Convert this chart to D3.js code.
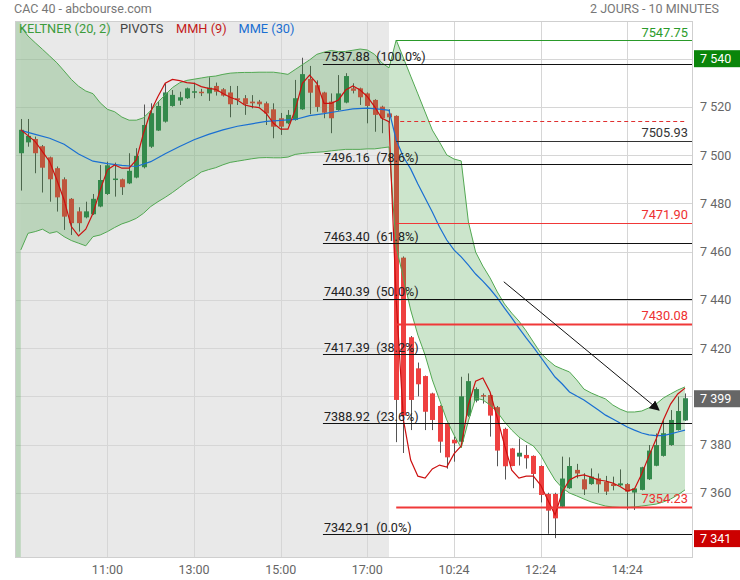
<!DOCTYPE html>
<html><head><meta charset="utf-8">
<script src="https://cdn.jsdelivr.net/npm/d3@7"></script>
<style>body{margin:0;background:#fff}svg{font-family:Roboto,"Liberation Sans",Arial,sans-serif}</style>
</head><body><svg id="c" width="740" height="580"></svg>
<script>
// ---------- DATA ----------
const opens  = [7500.8,7505.3,7506.7,7503.7,7499.1,7494.6,7490.0,7481.9,7476.7,7474.2,7475.5,7478.7,7483.9,7490.0,7490.0,7488.3,7490.7,7495.0,7503.5,7510.2,7513.9,7520.4,7522.6,7523.6,7526.0,7526.3,7525.6,7528.7,7527.3,7526.0,7523.6,7523.6,7522.2,7522.2,7521.5,7519.0,7515.3,7513.2,7514.6,7519.0,7531.6,7529.0,7526.0,7522.2,7518.7,7521.8,7527.7,7527.7,7525.6,7522.9,7520.1,7517.3,
  7516.3,7457.5,7424.5,7411.6,7408.4,7401.2,7396.0,7388.8,7382.0,7381.2,7392.0,7398.2,7400.5,7400.5,7395.5,7386.5,7378.4,7375.0,7375.7,7375.3,7371.1,7359.5,7359.5,7354.2,7361.9,7369.5,7365.6,7363.6,7366.0,7364.6,7363.6,7363.1,7363.6,7360.1,7361.2,7365.6,7371.2,7375.3,7379.8,7386.0,7390.0];
const highs  = [7515.0,7515.0,7507.7,7504.2,7499.4,7495.3,7490.8,7482.2,7478.4,7480.7,7483.9,7495.9,7497.3,7496.9,7490.3,7500.8,7502.9,7521.0,7521.5,7522.0,7529.8,7527.0,7526.3,7528.0,7530.1,7527.5,7532.3,7530.1,7527.8,7528.7,7528.7,7524.9,7524.9,7522.9,7522.2,7521.5,7517.5,7518.7,7531.2,7540.4,7537.0,7531.0,7526.3,7525.6,7533.2,7534.0,7529.8,7528.0,7526.0,7523.2,7520.5,7519.0,
  7516.5,7458.0,7425.0,7414.0,7408.6,7401.5,7396.3,7389.0,7383.3,7408.1,7409.5,7403.7,7401.2,7401.0,7396.0,7387.0,7378.6,7382.5,7379.8,7375.5,7371.4,7360.0,7360.0,7375.0,7374.7,7372.0,7368.1,7370.1,7368.0,7367.0,7366.7,7369.7,7364.0,7362.0,7370.8,7379.8,7384.6,7390.2,7394.3,7399.9,7401.2];
const lows   = [7485.3,7503.5,7492.5,7484.5,7480.7,7476.6,7469.0,7466.9,7468.3,7473.8,7475.2,7478.4,7483.5,7482.8,7483.5,7488.0,7490.4,7494.5,7503.0,7510.0,7513.5,7520.1,7520.8,7523.3,7523.6,7524.5,7522.5,7524.7,7524.3,7515.7,7520.8,7516.7,7519.4,7520.1,7512.5,7507.0,7508.4,7512.8,7514.3,7518.8,7517.0,7518.0,7515.3,7509.1,7518.4,7521.5,7525.6,7520.8,7513.2,7509.7,7509.1,7513.2,
  7381.0,7376.5,7386.0,7400.0,7386.0,7386.0,7376.6,7370.0,7372.9,7381.0,7391.5,7397.5,7397.0,7383.3,7371.0,7365.5,7371.0,7371.3,7370.0,7361.9,7356.0,7343.0,7341.2,7354.0,7361.6,7366.0,7359.1,7363.3,7360.0,7359.1,7361.0,7362.8,7352.9,7352.9,7361.0,7365.3,7371.0,7375.0,7379.5,7385.8,7389.8];
const closes = [7510.5,7508.0,7500.8,7494.8,7490.0,7482.5,7474.5,7471.8,7471.8,7476.7,7481.9,7489.7,7495.8,7490.3,7486.7,7493.5,7499.7,7512.5,7517.4,7520.4,7526.0,7525.0,7524.0,7527.7,7526.5,7525.8,7528.0,7526.3,7524.7,7521.1,7522.9,7521.1,7521.5,7521.1,7517.3,7511.8,7511.8,7516.7,7523.6,7533.6,7525.9,7520.0,7517.6,7515.3,7525.6,7532.8,7526.7,7524.0,7520.4,7516.7,7515.3,7515.7,
  7398.5,7392.0,7398.5,7405.0,7393.6,7390.2,7381.2,7374.7,7380.5,7400.0,7406.3,7403.0,7400.0,7392.0,7377.5,7371.0,7371.1,7376.6,7374.3,7367.8,7359.1,7352.6,7349.4,7365.9,7371.1,7368.0,7361.4,7366.7,7363.5,7360.5,7362.8,7363.9,7360.5,7361.8,7370.6,7377.5,7379.8,7384.7,7390.2,7393.9,7399.2];

const keltnerUpper = [7553.3,7549.4,7546.6,7543.9,7541.1,7538.3,7534.9,7531.4,7528.6,7526.6,7525.5,7521.7,7519.0,7518.0,7515.8,7514.5,7514.5,7515.5,7518.5,7522.0,7525.0,7528.0,7530.0,7531.0,7531.5,7532.0,7532.5,7532.8,7533.5,7534.0,7534.2,7534.3,7534.3,7534.4,7534.4,7534.4,7534.0,7533.5,7535.5,7537.5,7539.5,7541.8,7542.7,7543.4,7542.9,7543.0,7543.5,7544.0,7543.6,7541.8,7538.3,7536.2,
  7547.75,7540.3,7532.8,7525.4,7517.9,7510.4,7505.4,7500.1,7498.4,7497.6,7472.3,7459.8,7454.0,7449.1,7443.3,7438.3,7434.5,7431.2,7427.1,7422.5,7418.0,7415.1,7412.6,7411.3,7410.1,7406.8,7403.0,7401.4,7400.1,7398.9,7396.4,7394.7,7393.5,7393.5,7393.9,7395.2,7396.8,7399.3,7401.0,7402.6,7403.9];
const keltnerLower = [7460.7,7467.6,7468.3,7469.3,7467.6,7468.3,7466.2,7464.6,7463.5,7462.4,7466.2,7466.9,7468.3,7470.0,7471.5,7472.5,7473.8,7475.9,7478.7,7480.7,7482.5,7484.5,7486.7,7489.0,7490.8,7493.0,7494.0,7494.8,7496.0,7497.0,7497.5,7498.0,7498.5,7498.9,7499.0,7498.9,7498.9,7499.2,7500.3,7500.7,7501.0,7501.2,7501.4,7501.8,7502.1,7502.4,7502.4,7502.4,7502.6,7502.6,7503.0,7503.4,
  7461.9,7449.1,7435.8,7425.4,7417.1,7406.8,7398.5,7390.2,7384.0,7378.6,7389.8,7399.3,7398.5,7396.4,7393.5,7389.4,7386.0,7383.1,7381.1,7379.4,7375.7,7370.3,7365.3,7362.0,7359.9,7358.7,7357.4,7356.2,7355.3,7354.5,7354.1,7353.9,7353.9,7354.1,7354.5,7354.9,7355.3,7356.2,7357.4,7359.1,7361.2];

const mmhValues = [7510.5,7508.1,7505.6,7501.5,7497.3,7489.7,7481.4,7470.4,7466.5,7469.3,7475.9,7485.6,7493.9,7495.9,7494.6,7494.6,7498.0,7509.1,7518.1,7524.3,7529.8,7531.4,7530.9,7530.1,7529.8,7528.4,7527.7,7527.3,7525.6,7524.0,7522.9,7520.8,7520.1,7519.7,7517.3,7513.2,7510.8,7510.8,7518.7,7529.8,7533.2,7529.8,7521.5,7521.5,7522.9,7527.0,7528.7,7527.0,7524.3,7520.1,7515.3,7513.9,
  7439.9,7390.2,7373.6,7366.9,7366.1,7369.9,7371.5,7370.7,7376.1,7379.4,7396.4,7406.3,7407.6,7401.8,7391.0,7379.8,7369.4,7366.1,7366.9,7366.9,7363.2,7357.0,7350.8,7360.3,7365.3,7366.9,7367.4,7366.5,7365.3,7364.9,7364.0,7362.6,7360.7,7361.6,7367.8,7375.2,7382.3,7390.2,7396.8,7401.0,7403.4];

const mmeIndex  = [0,2,4,6,8,10,12,14,16,18,20,22,24,26,28,30,32,34,36,38,40,42,44,46,48,50,51,
  52,53,54,55,56,57,58,59,60,61,62,63,64,65,66,67,68,69,70,71,72,73,74,75,76,77,78,79,80,81,82,83,84,85,86,87,88,89,90,91,92];
const mmeValues = [7510.3,7508.6,7507.0,7504.5,7500.5,7497.5,7496.5,7495.8,7495.3,7497.3,7500.6,7503.6,7506.4,7508.6,7510.5,7512.0,7513.0,7514.0,7514.4,7514.8,7516.4,7517.2,7518.2,7519.2,7519.5,7519.0,7518.6,
  7506.3,7499.2,7494.3,7488.0,7482.2,7476.4,7470.2,7464.8,7460.7,7457.8,7454.4,7450.7,7447.8,7444.5,7440.8,7436.6,7432.5,7428.3,7424.2,7420.4,7416.3,7412.1,7408.0,7405.1,7401.8,7400.1,7398.5,7396.4,7394.3,7392.2,7390.6,7388.9,7387.3,7386.0,7384.8,7384.0,7383.7,7383.7,7384.4,7385.2,7386.0];

const fibValues = [7537.88,7496.16,7463.40,7440.39,7417.39,7388.92,7342.91];
const fibPct    = ["100.0%","78.6%","61.8%","50.0%","38.2%","23.6%","0.0%"];
const pivotValues = [7547.75,7505.93,7471.90,7430.08,7354.23];
const pivotKinds  = ["green","black","red","redBold","redBold"];
const prevClose = 7514.2;
const arrowFrom = [66.9,7447.5], arrowTo = [88.4,7394.3];

const xTickIndex  = [12,24,36,48,60,72,84];
const xTickLabels = ["11:00","13:00","15:00","17:00","10:24","12:24","14:24"];
const yTicks = [7360,7380,7400,7420,7440,7460,7480,7500,7520,7540];
const priceTags = [7540,7399,7341];
const priceTagKinds = ["high","last","low"];
const lastPrevIndex = 51, firstTodayIndex = 52, fibStartIndex = 41.85;

// ---------- DRAW ----------
const svg = d3.select("#c");
const P = {l:15, r:692, t:21, b:557};
const x = d3.scaleLinear().domain([0,92]).range([20.8,685.0]);
const y = d3.scaleLinear().domain([7342.91,7547.75]).range([534,40]);
const loc = d3.formatLocale({decimal:".",thousands:" ",grouping:[3],currency:["",""]});
const fmt = loc.format(",.0f");

svg.append("text").attr("x",14).attr("y",13).attr("font-size",12.5).attr("fill","#777").text("CAC 40 - abcbourse.com");
svg.append("text").attr("x",719).attr("y",13).attr("text-anchor","end").attr("font-size",12.5).attr("fill","#777").text("2 JOURS - 10 MINUTES");

svg.append("defs").append("clipPath").attr("id","pc").append("rect")
  .attr("x",P.l).attr("y",P.t).attr("width",P.r-P.l).attr("height",P.b-P.t);

svg.append("rect").attr("x",P.l).attr("y",P.t).attr("width",P.r-P.l).attr("height",P.b-P.t).attr("fill","#fff");
svg.append("rect").attr("x",P.l).attr("y",P.t).attr("width",x(lastPrevIndex)-P.l).attr("height",P.b-P.t).attr("fill","#e9e9e9");

const g = svg.append("g").attr("clip-path","url(#pc)");
g.selectAll(".hg").data(yTicks).join("line")
  .attr("x1",P.l).attr("x2",P.r).attr("y1",d=>Math.round(y(d))+0.5).attr("y2",d=>Math.round(y(d))+0.5)
  .attr("stroke","#d6d6d6").attr("stroke-width",1);
g.selectAll(".vg").data(xTickIndex).join("line")
  .attr("x1",d=>Math.round(x(d))+0.5).attr("x2",d=>Math.round(x(d))+0.5).attr("y1",P.t).attr("y2",P.b)
  .attr("stroke","#d6d6d6").attr("stroke-width",1);

// candles
const idx = d3.range(opens.length);
const up = i => closes[i] >= opens[i];
g.selectAll(".wick").data(idx).join("line")
  .attr("x1",i=>Math.round(x(i))+0.5).attr("x2",i=>Math.round(x(i))+0.5)
  .attr("y1",i=>y(highs[i])).attr("y2",i=>y(lows[i]))
  .attr("stroke","#555").attr("stroke-width",1);
g.selectAll(".body").data(idx).join("rect")
  .attr("x",i=>Math.round(x(i))-2).attr("width",5)
  .attr("y",i=>y(Math.max(opens[i],closes[i])))
  .attr("height",i=>Math.max(1.5,Math.abs(y(opens[i])-y(closes[i]))))
  .attr("fill",i=>up(i)?"#338553":"#ee4040");

// Keltner band (over candles)
g.append("rect").attr("x",P.l).attr("y",P.t).attr("width",x(0)-P.l).attr("height",P.b-P.t)
  .attr("fill","rgba(60,160,60,0.25)");
g.append("line").attr("x1",P.l+0.5).attr("x2",P.l+0.5).attr("y1",P.t).attr("y2",P.b).attr("stroke","#6ab86a");
const area = d3.area().x(i=>x(i)).y0(i=>y(keltnerLower[i])).y1(i=>y(keltnerUpper[i]));
g.append("path").datum(idx).attr("d",area).attr("fill","rgba(50,150,50,0.25)");
g.append("path").datum(idx).attr("d",d3.line().x(i=>x(i)).y(i=>y(keltnerUpper[i])))
  .attr("fill","none").attr("stroke","#52a852").attr("stroke-width",1);
g.append("path").datum(idx).attr("d",d3.line().x(i=>x(i)).y(i=>y(keltnerLower[i])))
  .attr("fill","none").attr("stroke","#52a852").attr("stroke-width",1);

// pivots
const pivColor = {green:"#2a9a2a",black:"#333",red:"#f03838",redBold:"#f03838"};
const pivW = {green:1,black:1,red:1,redBold:2};
svg.selectAll(".piv").data(pivotValues).join("line")
  .attr("x1",x(firstTodayIndex)).attr("x2",P.r+1)
  .attr("y1",d=>Math.round(y(d))+0.5).attr("y2",d=>Math.round(y(d))+0.5)
  .attr("stroke",(d,i)=>pivColor[pivotKinds[i]]).attr("stroke-width",(d,i)=>pivW[pivotKinds[i]]);
svg.append("line").attr("x1",x(firstTodayIndex)+4).attr("x2",x(92))
  .attr("y1",Math.round(y(prevClose))+0.5).attr("y2",Math.round(y(prevClose))+0.5)
  .attr("stroke","#e03030").attr("stroke-dasharray","4,3");

// fibonacci
svg.selectAll(".fib").data(fibValues).join("line")
  .attr("x1",x(fibStartIndex)).attr("x2",P.r+1)
  .attr("y1",d=>Math.round(y(d))+0.5).attr("y2",d=>Math.round(y(d))+0.5)
  .attr("stroke","#111").attr("stroke-width",1);

// moving averages
g.append("path").datum(mmeIndex.map((k,j)=>[k,mmeValues[j]]))
  .attr("d",d3.line().x(d=>x(d[0])).y(d=>y(d[1])))
  .attr("fill","none").attr("stroke","#1a6fd2").attr("stroke-width",1.2);
g.append("path").datum(idx).attr("d",d3.line().x(i=>x(i)).y(i=>y(mmhValues[i])))
  .attr("fill","none").attr("stroke","#cc1010").attr("stroke-width",1.2);

// arrow
const defs = svg.select("defs");
defs.append("marker").attr("id","ah").attr("viewBox","0 0 10 10").attr("refX",9).attr("refY",5)
  .attr("markerWidth",10).attr("markerHeight",10).attr("markerUnits","userSpaceOnUse").attr("orient","auto")
  .append("path").attr("d","M0,0L10,5L0,10Z").attr("fill","#111");
svg.append("line").attr("x1",x(arrowFrom[0])).attr("y1",y(arrowFrom[1]))
  .attr("x2",x(arrowTo[0])).attr("y2",y(arrowTo[1]))
  .attr("stroke","#111").attr("stroke-width",1).attr("marker-end","url(#ah)");

// labels for fib / pivots
svg.selectAll(".fibt").data(fibValues).join("text")
  .attr("x",x(fibStartIndex)+1).attr("y",d=>y(d)-2.5).attr("font-size",12.6).attr("fill","#222")
  .text((d,i)=>d.toFixed(2)+"\u2002("+fibPct[i]+")");
svg.selectAll(".pivt").data(pivotValues).join("text")
  .attr("x",688).attr("y",d=>y(d)-3.5).attr("text-anchor","end").attr("font-size",12.8)
  .attr("fill",(d,i)=>pivotKinds[i]==="green"?"#2a9a2a":(pivotKinds[i]==="black"?"#333":"#ee3030"))
  .text(d=>d.toFixed(2));

// frame
svg.append("rect").attr("x",P.l+0.5).attr("y",P.t+0.5).attr("width",P.r-P.l).attr("height",P.b-P.t)
  .attr("fill","none").attr("stroke","#cfcfcf");

// legend
const leg = [["KELTNER (20, 2)","#3c9c3c",19],["PIVOTS","#444",120],["MMH (9)","#c41a1a",176],["MME (30)","#1a6fd2",238.5]];
svg.selectAll(".leg").data(leg).join("text").attr("x",d=>d[2]).attr("y",33).attr("font-size",12.8)
  .attr("fill",d=>d[1]).text(d=>d[0]);

// y axis labels
svg.selectAll(".yl").data(yTicks).join("text").attr("x",700).attr("y",d=>y(d)+4.5)
  .attr("font-size",12.5).attr("fill","#666").text(d=>fmt(d));
const tagColor = {high:"#0a850a",last:"#666",low:"#cc0000"};
const tags = svg.selectAll(".tag").data(priceTags).join("g");
tags.append("rect").attr("x",694).attr("y",d=>y(d)-8.5).attr("width",46).attr("height",17)
  .attr("fill",(d,i)=>tagColor[priceTagKinds[i]]);
tags.append("text").attr("x",700).attr("y",d=>y(d)+4.5).attr("font-size",12.5).attr("fill","#fff").text(d=>fmt(d));

// x axis labels
svg.selectAll(".xl").data(xTickIndex).join("text").attr("x",d=>x(d)).attr("y",574)
  .attr("text-anchor","middle").attr("font-size",12.5).attr("fill","#666")
  .text((d,i)=>xTickLabels[i]);
</script></body></html>
